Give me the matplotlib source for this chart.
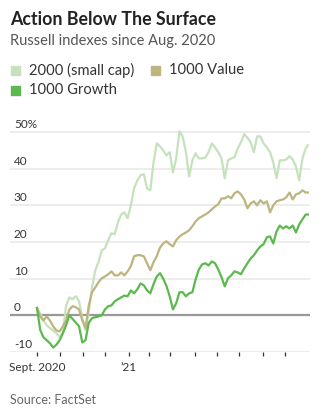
import matplotlib.pyplot as plt
from matplotlib.patches import Rectangle
from matplotlib import transforms

plt.rcParams['font.family'] = ['Lato', 'DejaVu Sans']

# trading-day index since Sept. 1, 2020
days = list(range(0, 250, 3)) + [251]

small_cap = [2, 0.5, -1.4, -2.7, -3.5, -4.1, -4.9, -6, -4.6, 2.7,
             4.9, 4.4, 5.2, 3.8, -0.8, -4.1, 0.8, 7.6, 12.3, 14.5,
             17.7, 18.3, 20.5, 22.4, 22.1, 25.4, 27.5, 28.1, 26.5, 30,
             34.6, 36.8, 38.2, 38.5, 34.6, 34.1, 41.7, 46.9, 46.1, 45,
             43.6, 44.5, 39, 42.8, 50.2, 48.8, 44.5, 37.9, 42.3, 44.2,
             42.8, 42.8, 43.1, 44.5, 46.9, 45.8, 44.5, 42.8, 37.4, 42.3,
             42.8, 43.1, 45.5, 47.2, 49.4, 48.5, 47.2, 44.5, 48.8, 48.8,
             46.9, 45.8, 44.5, 41.7, 37.4, 42.3, 42.3, 42.5, 43.4, 42.5,
             40.6, 36.8, 42.8, 45.5, 46.4]

value = [2, -0.3, -1.4, -0.3, -1.4, -3, -4.1, -4.4, -3, -1.4,
         1.6, 2.5, 2.2, 1.6, -1.4, -3.5, 2.7, 6.3, 7.6, 9,
         10.1, 10.6, 11.2, 12, 10.9, 10.9, 11.7, 10.9, 12, 13.4,
         16.1, 16.4, 16.4, 16.1, 14.2, 12.3, 14.5, 16.1, 18.5, 19.6,
         20.2, 19.4, 18.8, 20.5, 21.5, 22.1, 22.6, 23.2, 24.3, 25.6,
         26.5, 27, 27.5, 28.1, 28.9, 29.7, 30.3, 31.9, 31.9, 32.5,
         31.9, 33.3, 33.8, 33, 31.6, 29.2, 30.5, 31.1, 30, 31.4,
         30.5, 31.1, 28.1, 30, 31.1, 31.4, 31.6, 32.2, 33.5, 31.6,
         33, 33.3, 34.1, 33.5, 33.5]

growth = [2, -4, -6, -6.8, -7.6, -8.8, -8, -6.8, -4.9, -2.7,
          0, -1, -2, -3, -7.4, -6.8, -2, -0.8, -0.5, -0.3,
          0, 1.6, 2.5, 2.7, 3.8, 4.4, 4.9, 5.4, 5.2, 6.8,
          6, 7.1, 8.7, 8.2, 6.8, 6, 8.5, 10.6, 11.5, 10,
          8, 5.2, 1.6, 3.3, 6.3, 6.3, 5.2, 6, 6.3, 9.8,
          12.5, 13.9, 14.2, 13.6, 14.7, 14.2, 12.5, 10.4, 7.9, 10.1,
          10.9, 12, 11.7, 11.2, 12.8, 14.2, 15.5, 16.4, 17.7, 18.8,
          19.4, 21.3, 21.5, 19.6, 22.9, 24.5, 23.7, 24.3, 23.7, 24.5,
          22.6, 24.8, 26.2, 27.5, 27.5]

# month starts (trading-day index)
month_ticks = [0, 21, 43, 63, 85, 104, 123, 146, 167, 187, 209, 230]
month_labels = ['Sept. 2020', '', '', '', '\u201921', '', '', '', '', '', '', '']

y_ticks = [50, 40, 30, 20, 10, 0, -10]
y_labels = ['50%', '40', '30', '20', '10', '0', '-10']

series_names = ['2000 (small cap)', '1000 Value', '1000 Growth']
colors = ['#c6e2bd', '#bdb47f', '#5cb94d']

W, H = 325, 413
fig = plt.figure(figsize=(W / 100, H / 100), dpi=100)

# axes: x pixels 10..310, y pixels 352 (-10) .. 124.7 (52)
ax = fig.add_axes([10 / W, (H - 352) / H, 300 / W, (352 - 124.7) / H])
ax.set_xlim(-25, 253)
ax.set_ylim(-10, 52)

for t in y_ticks:
    if t == 0:
        ax.axhline(t, color='#999999', lw=1.6, zorder=1)
    else:
        ax.axhline(t, color='#ececec', lw=1.3, zorder=0)

ax.plot(days, small_cap, color=colors[0], lw=1.6, zorder=2)
ax.plot(days, value, color=colors[1], lw=1.6, zorder=3)
ax.plot(days, growth, color=colors[2], lw=1.6, zorder=4)

trans = transforms.blended_transform_factory(ax.transAxes, ax.transData)
for t, lab in zip(y_ticks, y_labels):
    ax.annotate(lab, xy=(0.013, t), xycoords=trans, xytext=(0, 1.5),
                textcoords='offset points', ha='left', va='bottom',
                fontsize=8.5, color='#333333')

for s in ax.spines.values():
    s.set_visible(False)
ax.set_yticks([])
ax.set_xticks(month_ticks)
ax.set_xticklabels(month_labels)
ax.tick_params(axis='x', length=3, width=0.9, color='#333333',
               labelsize=8.5, labelcolor='#333333', pad=4)

# title block
fig.text(10 / W, 1 - 19.5 / H, 'Action Below The Surface', fontsize=12.8,
         fontweight='bold', color='#222222', va='center', ha='left')
fig.text(10 / W, 1 - 41 / H, 'Russell indexes since Aug. 2020', fontsize=10.5,
         color='#555555', va='center', ha='left')

# legend
legend_pos = [(11, 70), (151, 70), (11, 90)]
for (px, py), name, c in zip(legend_pos, series_names, colors):
    fig.patches.append(Rectangle((px / W, 1 - (py + 4.5) / H), 9 / W, 9 / H,
                                 transform=fig.transFigure, color=c))
    fig.text((px + 18) / W, 1 - py / H, name, fontsize=10.6, color='#333333',
             va='center', ha='left')

fig.text(10 / W, 1 - 400 / H, 'Source: FactSet', fontsize=9,
         color='#666666', va='center', ha='left')

fig.savefig('out.png', dpi=100)
